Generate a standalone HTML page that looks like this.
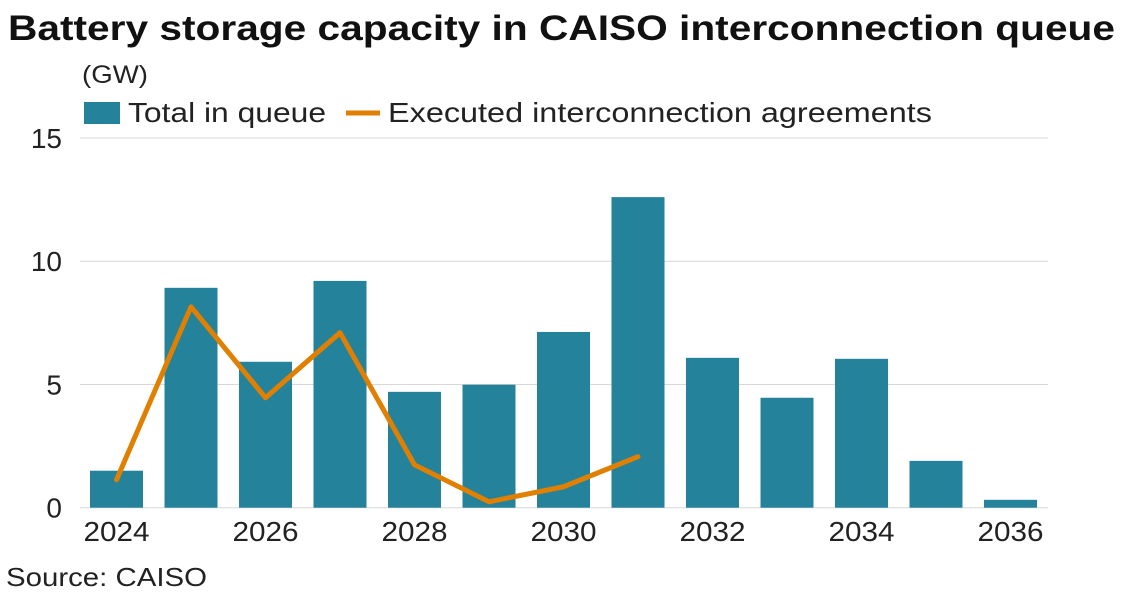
<!DOCTYPE html>
<html><head><meta charset="utf-8"><style>
body{margin:0;background:#fff;font-family:"Liberation Sans",sans-serif;}
svg text{font-family:"Liberation Sans",sans-serif;}
</style></head><body>
<svg width="1131" height="599">
<text x="8" y="40" font-size="35" font-weight="bold" fill="#111" textLength="1107" lengthAdjust="spacingAndGlyphs">Battery storage capacity in CAISO interconnection queue</text>
<text x="82" y="83" font-size="25" fill="#222" textLength="66" lengthAdjust="spacingAndGlyphs">(GW)</text>
<g>
<rect x="84" y="102" width="36" height="22" fill="#24839b"/>
<text x="128" y="122" font-size="28" fill="#222" textLength="198" lengthAdjust="spacingAndGlyphs">Total in queue</text>
<line x1="346" y1="113" x2="380" y2="113" stroke="#e07f00" stroke-width="5"/>
<text x="388" y="122" font-size="28" fill="#222" textLength="544" lengthAdjust="spacingAndGlyphs">Executed interconnection agreements</text>
</g>
<g id="grid"></g><g id="bars"></g><g id="line"></g><g id="xt"></g>
<text x="6" y="586" font-size="26" fill="#222" textLength="201" lengthAdjust="spacingAndGlyphs">Source: CAISO</text>
</svg>
<script>
const years=[2024,2025,2026,2027,2028,2029,2030,2031,2032,2033,2034,2035,2036];
const totalQueue=[1.5,8.92,5.92,9.2,4.7,4.99,7.13,12.6,6.08,4.46,6.04,1.9,0.32];
const executed=[1.13,8.15,4.46,7.1,1.74,0.24,0.85,2.07];
const yTicks=[0,5,10,15];
const xTickYears=[2024,2026,2028,2030,2032,2034,2036];
const NS="http://www.w3.org/2000/svg";
const y=v=>507.7-v*24.65;
const x=yr=>116.5+(yr-2024)*74.5;
function mk(tag,attrs,parent){const e=document.createElementNS(NS,tag);for(const k in attrs)e.setAttribute(k,attrs[k]);document.getElementById(parent).appendChild(e);return e;}
yTicks.forEach(t=>{
 const l=mk('line',{x1:80,x2:1048,y1:y(t),y2:y(t),stroke:'#d8d8d8','stroke-width':1},'grid');
 
 
 const tx=mk('text',{x:62,y:y(t)+10,'font-size':28,fill:'#222','text-anchor':'end'},'grid');tx.textContent=t;
 
 
});
years.forEach((yr,i)=>{
 const r=mk('rect',{x:x(yr)-26.5,y:y(totalQueue[i]),width:53,height:y(0)-y(totalQueue[i]),fill:'#24839b'},'bars');
 
 
});
const pts=executed.map((v,i)=>x(years[i])+','+y(v)).join(' ');
const pl=mk('polyline',{points:pts,fill:'none',stroke:'#e07f00','stroke-width':5,'stroke-linejoin':'round','stroke-linecap':'round'},'line');


xTickYears.forEach(yr=>{
 const t=mk('text',{x:x(yr),y:541,'font-size':28,fill:'#222','text-anchor':'middle',textLength:66,lengthAdjust:'spacingAndGlyphs'},'xt');t.textContent=yr;
 
 
});
</script>
</body></html>
